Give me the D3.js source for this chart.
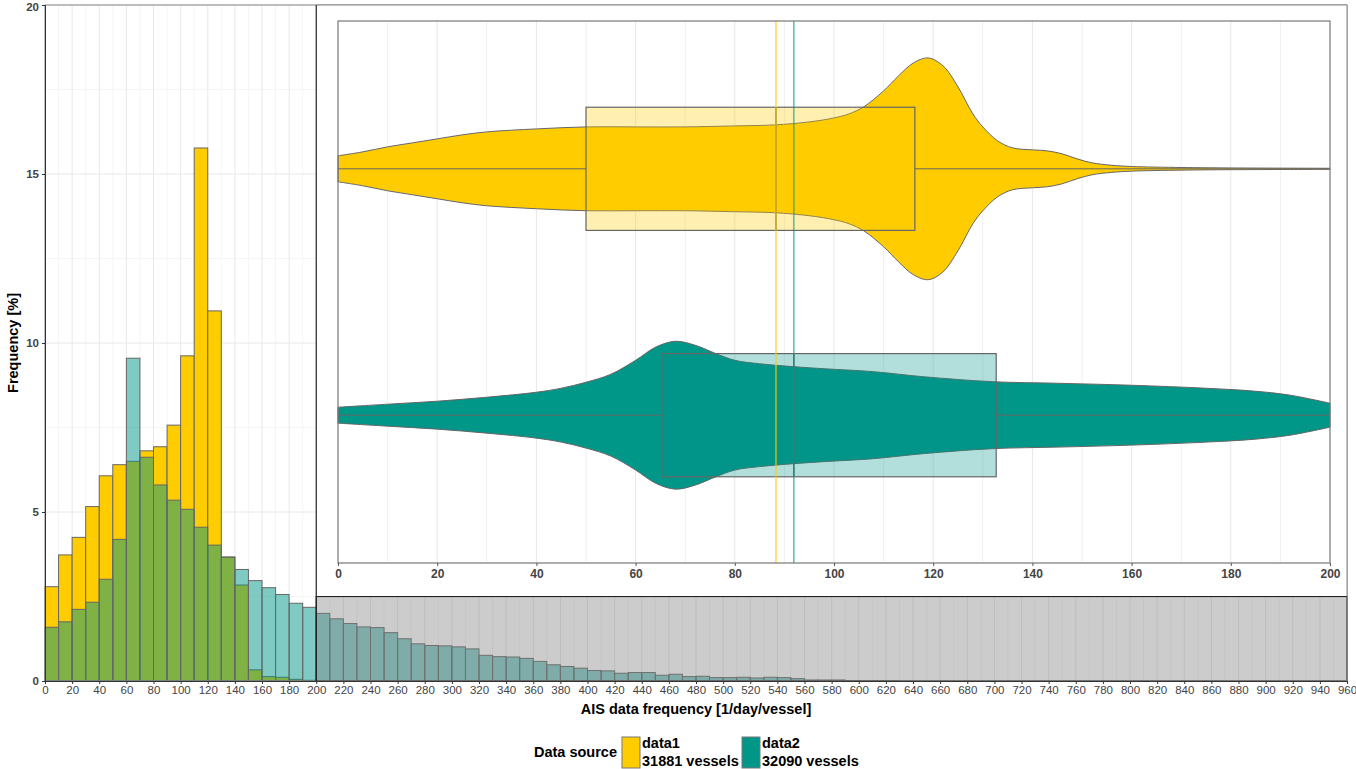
<!DOCTYPE html>
<html><head><meta charset="utf-8">
<script src="https://cdn.jsdelivr.net/npm/d3@7"></script>
<style>body{margin:0;background:#fff}svg{display:block;font-family:"Liberation Sans",Arial,Helvetica,sans-serif}</style>
</head><body><svg id="c" width="1356" height="769"></svg>
<script>
// ---------------- data ----------------
const binWidth = 10;
// histogram frequencies [%] per 10-unit bin starting at 0
const data1Pct = [2.79,3.73,4.25,5.16,6.07,6.40,6.50,6.81,6.93,7.57,9.62,15.77,10.95,3.67,2.84,0.33,0.13,0.11,0.05,0.02];
const data2Pct = [1.59,1.75,2.12,2.33,3.01,4.19,9.55,6.62,5.80,5.35,5.08,4.55,4.02,3.66,3.30,2.97,2.76,2.56,2.30,2.18,
  2.00,1.84,1.70,1.60,1.58,1.43,1.25,1.10,1.05,1.04,1.01,0.95,0.76,0.72,0.71,0.67,0.58,0.48,0.43,0.38,
  0.31,0.30,0.23,0.25,0.25,0.17,0.20,0.13,0.14,0.10,0.10,0.11,0.09,0.11,0.10,0.07,0.03,0.03,0.03,0.01,0.005,0.01,0.003];
const xTicks = d3.range(0, 961, 20);
const yTicks = [0,5,10,15,20];
const zoomRect = {x0:200, x1:960, y0:0, y1:2.5};

// inset violin / box data
const seriesNames = ["data1","data2"];
const seriesLabels = ["31881 vessels","32090 vessels"];
const violin1X = [0,5,10,15,20,25,30,40,50,60,70,80,88,95,100,103,106,110,113,116,119,122,125,128,130,133,136,140,143,146,149,152,156,160,170,180,200];
const violin1D = [11.7,15.3,19.8,23.4,27.0,30.6,33.3,36.0,37.8,37.8,37.8,38.7,39.6,42.3,45.9,49.5,55.9,70.3,83.8,95.5,100,92.8,73.9,49.5,37.8,25.2,18.9,17.1,16.2,13.5,9.0,5.4,3.2,2.1,1.2,0.8,0.5];
const violin2X = [0,10,20,30,40,45,50,55,60,64,68,72,76,80,85,92,98,108,118,132,145,160,175,185,192,200];
const violin2D = [7.2,9.9,12.6,16.2,20.7,24.3,29.7,36.9,49.5,61.3,66.7,63.1,55.9,49.5,46.4,43.7,41.9,39.2,34.7,30.2,28.8,27.0,24.3,21.6,18.0,10.8];
const boxQ1 = [50.0, 65.3];
const boxMed = [88.3, 91.9];
const boxQ3 = [116.3, 132.7];
const whiskLo = [0, 0];
const whiskHi = [200, 200];
const insetTicks = d3.range(0, 201, 20);

const colors = ["#FFCC00", "#009688"];

// ---------------- layout ----------------
const svg = d3.select("#c");
const x = d3.scaleLinear().domain([0,960]).range([45,1347]);
const y = d3.scaleLinear().domain([0,20]).range([681,5]);

// grid
const g = svg.append("g");
g.selectAll(".vminor").data(d3.range(10,960,20)).join("line")
  .attr("x1",d=>x(d)).attr("x2",d=>x(d)).attr("y1",y(0)).attr("y2",y(20))
  .attr("stroke","#f2f2f2").attr("stroke-width",0.8);
g.selectAll(".hminor").data([2.5,7.5,12.5,17.5]).join("line")
  .attr("x1",x(0)).attr("x2",x(960)).attr("y1",d=>y(d)).attr("y2",d=>y(d))
  .attr("stroke","#f2f2f2").attr("stroke-width",0.8);
g.selectAll(".vmajor").data(xTicks).join("line")
  .attr("x1",d=>x(d)).attr("x2",d=>x(d)).attr("y1",y(0)).attr("y2",y(20))
  .attr("stroke","#e8e8e8").attr("stroke-width",1);
g.selectAll(".hmajor").data(yTicks).join("line")
  .attr("x1",x(0)).attr("x2",x(960)).attr("y1",d=>y(d)).attr("y2",d=>y(d))
  .attr("stroke","#e8e8e8").attr("stroke-width",1);

// histogram bars
function bars(arr, fill, op){
  svg.append("g").selectAll("rect").data(arr).join("rect")
    .attr("x",(d,i)=>x(i*binWidth)).attr("width",(d,i)=>x((i+1)*binWidth)-x(i*binWidth))
    .attr("y",d=>y(d)).attr("height",d=>y(0)-y(d))
    .attr("fill",fill).attr("fill-opacity",op)
    .attr("stroke","#666").attr("stroke-width",1);
}
bars(data1Pct, colors[0], 1);
bars(data2Pct, colors[1], 0.5);

// grey zoom rect
svg.append("rect")
  .attr("x",x(zoomRect.x0)).attr("y",y(zoomRect.y1))
  .attr("width",x(zoomRect.x1)-x(zoomRect.x0)).attr("height",y(zoomRect.y0)-y(zoomRect.y1))
  .attr("fill","#808080").attr("fill-opacity",0.4)
  .attr("stroke","#222").attr("stroke-width",1.2);

// main panel border
svg.append("rect").attr("x",x(0)).attr("y",y(20)).attr("width",x(960)-x(0)).attr("height",y(0)-y(20))
  .attr("fill","none").attr("stroke","#888").attr("stroke-width",1);

// axes
const xAx = svg.append("g").attr("transform",`translate(0,${y(0)})`)
  .call(d3.axisBottom(x).tickValues(xTicks).tickSize(3).tickPadding(2));
xAx.select(".domain").attr("stroke","#333");
xAx.selectAll(".tick line").attr("stroke","#333");
xAx.selectAll("text").attr("fill","#444").attr("font-size","11.5px").attr("font-family","Liberation Sans, Arial");
const yAx = svg.append("g").attr("transform",`translate(${x(0)},0)`)
  .call(d3.axisLeft(y).tickValues(yTicks).tickSize(3).tickPadding(3));
yAx.select(".domain").attr("stroke","#333");
yAx.selectAll(".tick line").attr("stroke","#333");
yAx.selectAll("text").attr("fill","#444").attr("font-size","11.5px").attr("font-weight","bold")
  .attr("dy",d=>d===20?"0.5em":"0.32em");

svg.append("text").attr("x",696).attr("y",714).attr("text-anchor","middle")
  .attr("font-size","14.5px").attr("font-weight","bold").text("AIS data frequency [1/day/vessel]");
svg.append("text").attr("transform","translate(18,343) rotate(-90)").attr("text-anchor","middle")
  .attr("font-size","14.5px").attr("font-weight","bold").text("Frequency [%]");

// ---------------- inset ----------------
const ix0 = x(200), iy1 = y(2.5);
svg.append("rect").attr("x",ix0).attr("y",y(20)).attr("width",x(960)-ix0).attr("height",iy1-y(20))
  .attr("fill","#fff").attr("stroke","none");
svg.append("line").attr("x1",ix0).attr("x2",ix0).attr("y1",y(20)).attr("y2",y(0)).attr("stroke","#222").attr("stroke-width",1.2);
svg.append("line").attr("x1",ix0).attr("x2",x(960)).attr("y1",iy1).attr("y2",iy1).attr("stroke","#222").attr("stroke-width",1.2);
svg.append("line").attr("x1",ix0).attr("x2",x(960)).attr("y1",y(20)).attr("y2",y(20)).attr("stroke","#888");
svg.append("line").attr("x1",x(960)).attr("x2",x(960)).attr("y1",y(20)).attr("y2",iy1).attr("stroke","#888");

const ixs = d3.scaleLinear().domain([0,200]).range([338,1330]);
const iys = d3.scaleLinear().domain([0.4,2.6]).range([21,563]);
const unit = iys(1)-iys(0);
const ig = svg.append("g");
ig.selectAll(".ig").data(d3.range(10,200,10)).join("line")
  .attr("x1",d=>ixs(d)).attr("x2",d=>ixs(d)).attr("y1",iys(0.4)).attr("y2",iys(2.6))
  .attr("stroke",(d)=>d%20===0?"#e8e8e8":"#f0f0f0").attr("stroke-width",1);

const dScale = d3.scaleLinear().domain([0,100]).range([0,0.45*unit]);
function violin(xs, ds, k){
  const cy = iys(k+1);
  const pts = xs.map((v,i)=>[v,ds[i]]);
  const area = d3.area().x(d=>ixs(d[0])).y0(d=>cy-dScale(d[1])).y1(d=>cy+dScale(d[1])).curve(d3.curveCatmullRom);
  ig.append("path").attr("d",area(pts)).attr("fill",colors[k]).attr("stroke","#666").attr("stroke-width",1);
}
violin(violin1X, violin1D, 0);
violin(violin2X, violin2D, 1);

seriesNames.forEach((s,k)=>{
  const cy = iys(k+1), hw = 0.25*unit;
  ig.append("line").attr("x1",ixs(whiskLo[k])).attr("x2",ixs(boxQ1[k])).attr("y1",cy).attr("y2",cy).attr("stroke","#666");
  ig.append("line").attr("x1",ixs(boxQ3[k])).attr("x2",ixs(whiskHi[k])).attr("y1",cy).attr("y2",cy).attr("stroke","#666");
  ig.append("rect").attr("x",ixs(boxQ1[k])).attr("width",ixs(boxQ3[k])-ixs(boxQ1[k]))
    .attr("y",cy-hw).attr("height",2*hw).attr("fill",colors[k]).attr("fill-opacity",0.3)
    .attr("stroke","#666").attr("stroke-width",1.2);
  ig.append("line").attr("x1",ixs(boxMed[k])).attr("x2",ixs(boxMed[k])).attr("y1",cy-hw).attr("y2",cy+hw)
    .attr("stroke","#666").attr("stroke-width",1.5);
});
seriesNames.forEach((s,k)=>{
  ig.append("line").attr("x1",ixs(boxMed[k])).attr("x2",ixs(boxMed[k])).attr("y1",iys(0.4)).attr("y2",iys(2.6))
    .attr("stroke",colors[k]).attr("stroke-opacity",k===0?0.7:0.6).attr("stroke-width",1.6);
});
ig.append("rect").attr("x",ixs(0)).attr("y",iys(0.4)).attr("width",ixs(200)-ixs(0)).attr("height",iys(2.6)-iys(0.4))
  .attr("fill","none").attr("stroke","#777").attr("stroke-width",1.2);
const iax = ig.append("g").attr("transform",`translate(0,${iys(2.6)})`)
  .call(d3.axisBottom(ixs).tickValues(insetTicks).tickSize(3).tickPadding(3));
iax.select(".domain").remove();
iax.selectAll(".tick line").attr("stroke","#555");
iax.selectAll("text").attr("fill","#444").attr("font-size","12px").attr("font-weight","bold");

// ---------------- legend ----------------
const lg = svg.append("g");
lg.append("text").attr("x",617).attr("y",757).attr("text-anchor","end").attr("font-size","14.5px").attr("font-weight","bold").text("Data source");
const keyX = [622, 742];
seriesNames.forEach((s,k)=>{
  lg.append("rect").attr("x",keyX[k]).attr("y",737).attr("width",18).attr("height",31)
    .attr("fill",colors[k]).attr("stroke","#777").attr("stroke-width",1);
  lg.append("text").attr("x",keyX[k]+20).attr("y",748).attr("font-size","14.5px").attr("font-weight","bold").text(s);
  lg.append("text").attr("x",keyX[k]+20).attr("y",766).attr("font-size","14.5px").attr("font-weight","bold").text(seriesLabels[k]);
});
</script></body></html>
